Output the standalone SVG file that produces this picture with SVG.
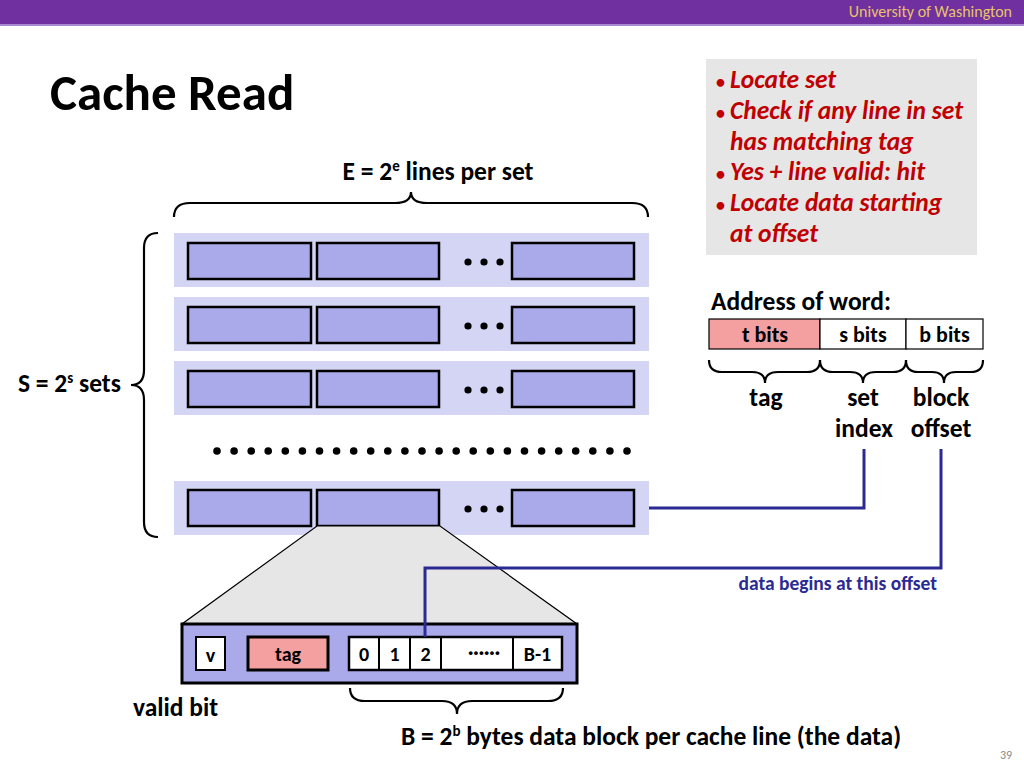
<svg xmlns="http://www.w3.org/2000/svg" width="1024" height="768" viewBox="0 0 1024 768">
<style>
text{font-family:Carlito,Lato,"Liberation Sans",sans-serif;font-weight:bold;fill:#000}
.bg{fill:#D4D4F4}
.ln{fill:#AAAAEB;stroke:#000;stroke-width:2.5}
.brace{fill:none;stroke:#000;stroke-width:2.2}
.wire{fill:none;stroke:#2B2A93;stroke-width:3}
.cell{fill:#fff;stroke:#000;stroke-width:2}
.red{fill:#C00000;font-style:italic;font-size:25.5px}
.bul{font-style:normal;font-size:18px}
.lab{font-size:25.5px}
.cl{font-size:20px}
.dot{fill:#000}
</style>
<rect x="0" y="0" width="1024" height="24" fill="#7030A0"/>
<rect x="0" y="24" width="1024" height="2" fill="#A98AD0"/>
<text x="1012" y="17" text-anchor="end" style="font-size:16px;fill:#E8C36A;font-weight:normal">University of Washington</text>
<text x="50" y="110" style="font-size:51px">Cache Read</text>

<g id="bullets">
<rect x="706" y="59" width="271" height="196" fill="#E6E6E6"/>
<text class="red" x="716" y="88"><tspan class="bul">•</tspan><tspan x="730">Locate set</tspan></text>
<text class="red" x="716" y="119"><tspan class="bul">•</tspan><tspan x="730">Check if any line in set</tspan></text>
<text class="red" x="730" y="150">has matching tag</text>
<text class="red" x="716" y="180"><tspan class="bul">•</tspan><tspan x="730">Yes + line valid: hit</tspan></text>
<text class="red" x="716" y="211"><tspan class="bul">•</tspan><tspan x="730">Locate data starting</tspan></text>
<text class="red" x="730" y="242">at offset</text>
</g>

<g id="e-label">
<text x="438" y="180" text-anchor="middle" class="lab">E = 2<tspan dy="-9" style="font-size:15px">e</tspan><tspan dy="9"> lines per set</tspan></text>
<path class="brace" d="M174,217 Q174,203 190,203 L395,203 Q411,203 411,192 Q411,203 427,203 L632,203 Q648,203 648,217"/>
</g>

<g id="s-label">
<text x="18" y="392" class="lab">S = 2<tspan dy="-9" style="font-size:15px">s</tspan><tspan dy="9"> sets</tspan></text>
<path class="brace" d="M158,233 Q144,233 144,248 L144,370 Q144,385 131,385 Q144,385 144,400 L144,522 Q144,537 158,537"/>
</g>

<g id="set1">
<rect class="bg" x="174" y="233" width="475" height="54"/>
<rect class="ln" x="188" y="243" width="123" height="36"/>
<rect class="ln" x="317" y="243" width="122" height="36"/>
<rect class="ln" x="512" y="243" width="122" height="36"/>
<circle class="dot" cx="468" cy="262" r="3.6"/><circle class="dot" cx="484" cy="262" r="3.6"/><circle class="dot" cx="500" cy="262" r="3.6"/>
</g>
<g id="set2">
<rect class="bg" x="174" y="297" width="475" height="54"/>
<rect class="ln" x="188" y="307" width="123" height="36"/>
<rect class="ln" x="317" y="307" width="122" height="36"/>
<rect class="ln" x="512" y="307" width="122" height="36"/>
<circle class="dot" cx="468" cy="326" r="3.6"/><circle class="dot" cx="484" cy="326" r="3.6"/><circle class="dot" cx="500" cy="326" r="3.6"/>
</g>
<g id="set3">
<rect class="bg" x="174" y="361" width="475" height="54"/>
<rect class="ln" x="188" y="371" width="123" height="36"/>
<rect class="ln" x="317" y="371" width="122" height="36"/>
<rect class="ln" x="512" y="371" width="122" height="36"/>
<circle class="dot" cx="468" cy="390" r="3.6"/><circle class="dot" cx="484" cy="390" r="3.6"/><circle class="dot" cx="500" cy="390" r="3.6"/>
</g>
<g id="vdots">
<circle class="dot" cx="217" cy="451" r="3.8"/><circle class="dot" cx="234.1" cy="451" r="3.8"/><circle class="dot" cx="251.2" cy="451" r="3.8"/><circle class="dot" cx="268.2" cy="451" r="3.8"/><circle class="dot" cx="285.3" cy="451" r="3.8"/><circle class="dot" cx="302.4" cy="451" r="3.8"/><circle class="dot" cx="319.5" cy="451" r="3.8"/><circle class="dot" cx="336.6" cy="451" r="3.8"/><circle class="dot" cx="353.7" cy="451" r="3.8"/><circle class="dot" cx="370.7" cy="451" r="3.8"/><circle class="dot" cx="387.8" cy="451" r="3.8"/><circle class="dot" cx="404.9" cy="451" r="3.8"/><circle class="dot" cx="422" cy="451" r="3.8"/><circle class="dot" cx="439.1" cy="451" r="3.8"/><circle class="dot" cx="456.2" cy="451" r="3.8"/><circle class="dot" cx="473.2" cy="451" r="3.8"/><circle class="dot" cx="490.3" cy="451" r="3.8"/><circle class="dot" cx="507.4" cy="451" r="3.8"/><circle class="dot" cx="524.5" cy="451" r="3.8"/><circle class="dot" cx="541.6" cy="451" r="3.8"/><circle class="dot" cx="558.7" cy="451" r="3.8"/><circle class="dot" cx="575.7" cy="451" r="3.8"/><circle class="dot" cx="592.8" cy="451" r="3.8"/><circle class="dot" cx="609.9" cy="451" r="3.8"/><circle class="dot" cx="627" cy="451" r="3.8"/>
</g>
<g id="setS">
<rect class="bg" x="174" y="481" width="475" height="54"/>
<rect class="ln" x="188" y="490" width="123" height="36"/>
<rect class="ln" x="317" y="490" width="122" height="36"/>
<rect class="ln" x="512" y="490" width="122" height="36"/>
<circle class="dot" cx="468" cy="509" r="3.6"/><circle class="dot" cx="484" cy="509" r="3.6"/><circle class="dot" cx="500" cy="509" r="3.6"/>
</g>

<g id="zoom">
<polygon points="317,526 440,526 577,624 182,624" fill="#E6E6E6" stroke="#000" stroke-width="1.2"/>
</g>

<g id="cacheline">
<rect x="182" y="624" width="395" height="59" fill="#AAAAEB" stroke="#000" stroke-width="3"/>
<rect class="cell" x="196" y="637" width="29" height="33"/>
<text x="210.5" y="662" text-anchor="middle" class="cl">v</text>
<rect x="248" y="637" width="80" height="33" fill="#F4A0A0" stroke="#000" stroke-width="3"/>
<text x="288" y="661" text-anchor="middle" class="cl">tag</text>
<rect class="cell" x="349" y="637" width="30" height="33"/>
<rect class="cell" x="379" y="637" width="31" height="33"/>
<rect class="cell" x="410" y="637" width="31" height="33"/>
<rect class="cell" x="441" y="637" width="72" height="33"/>
<rect class="cell" x="513" y="637" width="49" height="33"/>
<rect x="349" y="637" width="213" height="33" fill="none" stroke="#000" stroke-width="2.5"/>
<text x="364" y="661" text-anchor="middle" class="cl">0</text>
<text x="394.5" y="661" text-anchor="middle" class="cl">1</text>
<text x="425.5" y="661" text-anchor="middle" class="cl">2</text>
<text x="484" y="659" text-anchor="middle" class="cl">······</text>
<text x="537.5" y="661" text-anchor="middle" class="cl">B-1</text>
</g>

<g id="data-brace">
<path class="brace" d="M350,688 Q350,701 365,701 L442,701 Q457,701 457,714 Q457,701 472,701 L548,701 Q563,701 563,688"/>
<text x="401" y="745" class="lab">B = 2<tspan dy="-9" style="font-size:15px">b</tspan><tspan dy="9"> bytes data block per cache line (the data)</tspan></text>
</g>
<text x="133" y="716" class="lab">valid bit</text>

<g id="address">
<text x="711" y="310" class="lab">Address of word:</text>
<rect x="709" y="319" width="111" height="30" fill="#F4A0A0" stroke="#000" stroke-width="1.2"/>
<rect x="820" y="319" width="86" height="30" fill="#fff" stroke="#000" stroke-width="1.2"/>
<rect x="906" y="319" width="77" height="30" fill="#fff" stroke="#000" stroke-width="1.2"/>
<text x="765" y="342" text-anchor="middle" style="font-size:22px">t bits</text>
<text x="863" y="342" text-anchor="middle" style="font-size:22px">s bits</text>
<text x="944.5" y="342" text-anchor="middle" style="font-size:22px">b bits</text>
<path class="brace" d="M709,360 Q709,372 722,372 L752,372 Q765,372 765,383 Q765,372 778,372 L807,372 Q820,372 820,360"/>
<path class="brace" d="M820,360 Q820,372 833,372 L850,372 Q863,372 863,383 Q863,372 876,372 L893,372 Q906,372 906,360"/>
<path class="brace" d="M906,360 Q906,372 918,372 L932,372 Q944,372 944,383 Q944,372 956,372 L971,372 Q983,372 983,360"/>
<text x="766" y="406" text-anchor="middle" class="lab">tag</text>
<text x="863" y="406" text-anchor="middle" class="lab">set</text>
<text x="864" y="437" text-anchor="middle" class="lab">index</text>
<text x="941" y="406" text-anchor="middle" class="lab">block</text>
<text x="941" y="437" text-anchor="middle" class="lab">offset</text>
</g>

<g id="connectors">
<polyline class="wire" points="649,508 864,508 864,449"/>
<polyline class="wire" points="941,449 941,568 425,568 425,637"/>
</g>
<text x="937" y="590" text-anchor="end" style="font-size:19.5px;fill:#2B2A93">data begins at this offset</text>
<text x="1000" y="759" style="font-size:12px;fill:#888;font-weight:normal">39</text>
</svg>
